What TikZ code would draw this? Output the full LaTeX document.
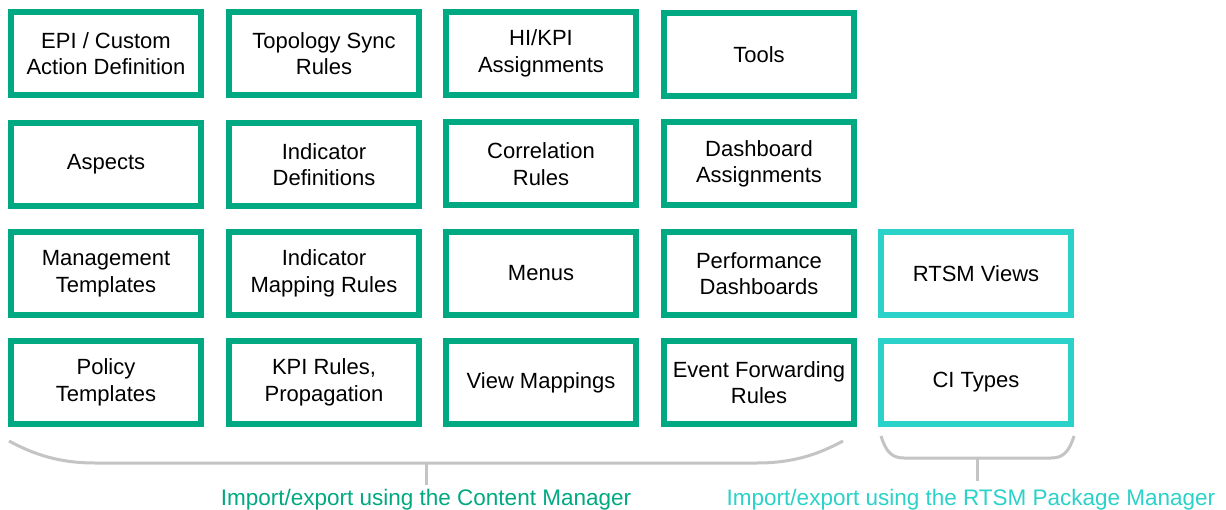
\documentclass[tikz,border=0pt]{standalone}
\usepackage{fontspec}
\setmainfont{Liberation Sans}
\definecolor{hpegreen}{HTML}{01A982}
\definecolor{hpeteal}{HTML}{2AD2C9}
\definecolor{bracegray}{HTML}{C4C4C4}
\tikzset{
  gbox/.style={draw=hpegreen, line width=6pt, minimum width=190pt, minimum height=83pt,
    inner sep=0pt, align=center, font=\fontsize{22}{26.5}\selectfont, text=black},
  tbox/.style={gbox, draw=hpeteal},
  brace/.style={draw=bracegray, line width=3pt},
  lab/.style={anchor=base, inner sep=0pt, font=\fontsize{22.5}{27}\selectfont}
}
\begin{document}
\begin{tikzpicture}[x=1pt,y=-1pt]
\useasboundingbox (0,0) rectangle (1226,510);
\fill[white] (0,0) rectangle (1226,510);
% row 1
\node[gbox] (epi)   at (106,53.5) {EPI / Custom\\Action Definition};
\node[gbox] (topo)  at (324,53.5) {Topology Sync\\Rules};
\node[gbox] (hikpi) at (541,53.5) {HI/KPI\\Assignments};
\node[gbox] (tools) at (759,54.5) {Tools};
% row 2
\node[gbox] (asp)   at (106,164.5) {Aspects};
\node[gbox] (inddef) at (324,164.5) {Indicator\\Definitions};
\node[gbox] (corr)  at (541,164) {Correlation\\Rules};
\node[gbox] (dash)  at (759,164) {Dashboard\\Assignments};
% row 3
\node[gbox] (mgmt)  at (106,273.5) {Management\\Templates};
\node[gbox] (indmap) at (324,273.5) {Indicator\\Mapping Rules};
\node[gbox] (menus) at (541,273.5) {Menus};
\node[gbox] (perf)  at (759,273.5) {Performance\\Dashboards};
\node[tbox] (rtsmv) at (976,273.5) {RTSM Views};
% row 4
\node[gbox] (pol)   at (106,382.5) {Policy\\Templates};
\node[gbox] (kpi)   at (324,382.5) {KPI Rules,\\Propagation};
\node[gbox] (view)  at (541,382.5) {View Mappings};
\node[gbox] (evt)   at (759,382.5) {Event Forwarding\\Rules};
\node[tbox] (ci)    at (976,382.5) {CI Types};
% braces
\draw[brace] (9,441) .. controls (35,455) and (60,463) .. (95,463)
  -- (757,463) .. controls (792,463) and (817,455) .. (843,441);
\draw[brace] (881,436) .. controls (886,452) and (892,458) .. (904,458)
  -- (1051,458) .. controls (1063,458) and (1069,452) .. (1074,436);
\coordinate (b1mid) at (426,463);
\coordinate (b2mid) at (977,458);
\node[lab, text=hpegreen] (lab1) at (426,505) {Import/export using the Content Manager};
\node[lab, text=hpeteal] (lab2) at (971,505) {Import/export using the RTSM Package Manager};
\coordinate (t1) at (426,485);
\coordinate (t2) at (977,481);
\draw[brace] (b1mid) -- (t1);
\draw[brace] (b2mid) -- (t2);
\end{tikzpicture}
\end{document}
